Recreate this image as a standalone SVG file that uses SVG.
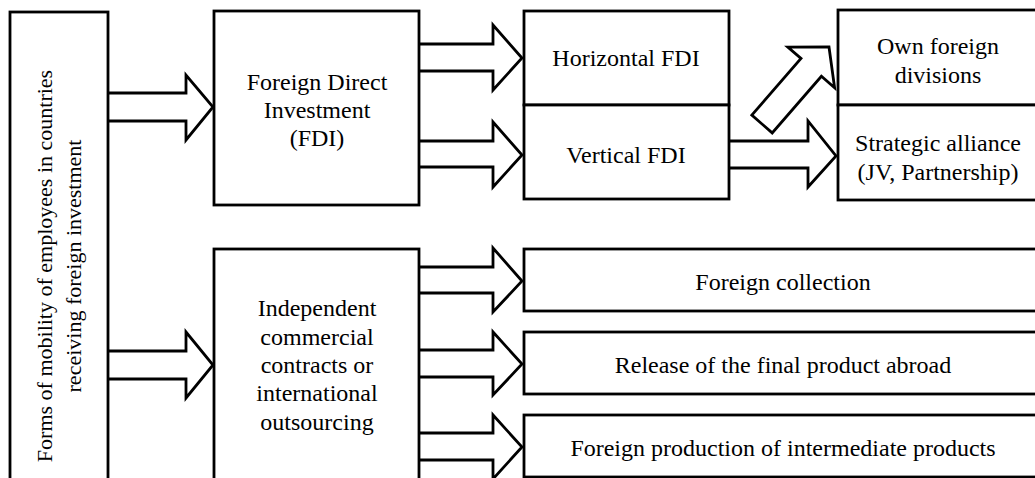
<svg xmlns="http://www.w3.org/2000/svg" width="1035" height="478" viewBox="0 0 1035 478">
<style>
.box{fill:#fff;stroke:#000;stroke-width:2.8}
.arr{fill:#fff;stroke:#000;stroke-width:2.8;stroke-linejoin:miter}
text{font-family:"Liberation Serif","Times New Roman",serif;font-size:24px;fill:#000;text-anchor:middle;dominant-baseline:central}
.rot{font-size:22px}
</style>
<rect width="1035" height="478" fill="#fff"/>
<g id="connectors">
<path class="arr" d="M108,93 H186 V75 L213,107 L186,140 V121 H108"/>
<path class="arr" d="M108,351 H186 V332 L213,365 L186,398 V379 H108"/>
<path class="arr" d="M419,44 H493 V25 L522,58 L493,90 V71 H419"/>
<path class="arr" d="M419,141 H493 V122 L522,155 L493,187 V167 H419"/>
<path class="arr" d="M729,141 H808 V121 L836,156 L808,187 V168 H729"/>
<path class="arr" d="M751.8,115.1 L801,58.5 L787.8,47.1 L829,47 L834.6,87.7 L821.4,76.3 L772.2,132.9 Z"/>
<path class="arr" d="M419,267 H493 V248 L522,281 L493,312 V293 H419"/>
<path class="arr" d="M419,350 H493 V332 L522,364 L493,395 V377 H419"/>
<path class="arr" d="M419,433 H493 V415 L522,447 L493,479 V460 H419"/>
</g>
<g id="n-forms">
<rect class="box" x="10" y="12" width="98" height="480"/>
<text class="rot" transform="translate(44,266) rotate(-90)">Forms of mobility of employees in countries</text>
<text class="rot" transform="translate(73,266) rotate(-90)">receiving foreign investment</text>
</g>
<g id="n-fdi">
<rect class="box" x="214" y="11" width="205" height="194"/>
<text x="317" y="82">Foreign Direct</text>
<text x="317" y="110">Investment</text>
<text x="317" y="138">(FDI)</text>
</g>
<g id="n-horizontal">
<rect class="box" x="524" y="11" width="205" height="94"/>
<text x="626" y="58">Horizontal FDI</text>
</g>
<g id="n-vertical">
<rect class="box" x="524" y="105" width="205" height="94"/>
<text x="626" y="155">Vertical FDI</text>
</g>
<g id="n-own">
<rect class="box" x="838" y="10" width="210" height="95"/>
<text x="938" y="46">Own foreign</text>
<text x="938" y="75">divisions</text>
</g>
<g id="n-strategic">
<rect class="box" x="838" y="105" width="210" height="95"/>
<text x="938" y="143">Strategic alliance</text>
<text x="938" y="172">(JV, Partnership)</text>
</g>
<g id="n-independent">
<rect class="box" x="214" y="249" width="205" height="250"/>
<text x="317" y="308">Independent</text>
<text x="317" y="337">commercial</text>
<text x="317" y="365">contracts or</text>
<text x="317" y="393">international</text>
<text x="317" y="422">outsourcing</text>
</g>
<g id="n-collection">
<rect class="box" x="524" y="249" width="520" height="62"/>
<text x="783" y="282">Foreign collection</text>
</g>
<g id="n-release">
<rect class="box" x="524" y="332" width="520" height="62"/>
<text x="783" y="365">Release of the final product abroad</text>
</g>
<g id="n-production">
<rect class="box" x="524" y="415" width="520" height="62"/>
<text x="783" y="448">Foreign production of intermediate products</text>
</g>
</svg>
